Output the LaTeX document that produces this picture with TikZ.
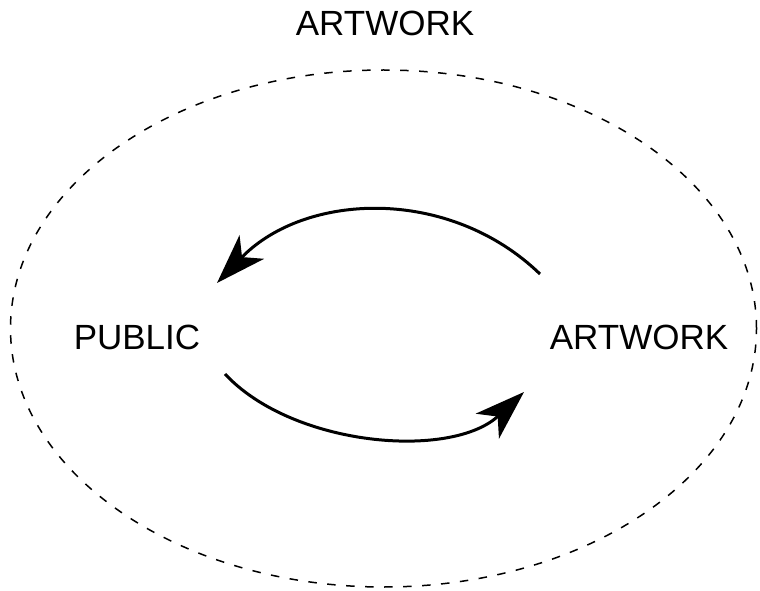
\documentclass[tikz,border=0pt]{standalone}
\usepackage{fontspec}
\setmainfont{Liberation Sans}
\usetikzlibrary{arrows.meta}

\tikzset{
  label/.style={inner sep=0pt, anchor=base, font=\fontsize{35}{42}\selectfont},
  flow/.style={line width=3pt, -{Stealth[length=50pt, width=34pt, inset=14pt]}},
  frontier/.style={line width=1.5pt, dash pattern=on 8.5pt off 10.5pt}
}

\begin{document}
\begin{tikzpicture}[x=1pt, y=1pt]

    % 1. marco
    \useasboundingbox (0, 0) rectangle (760, 590);

    % 2. elipse exterior
    \draw[frontier] (383.5, 261.5) ellipse [x radius=373, y radius=258.5];

    % 3. textos
    \node[label] (title) at (385, 554) {ARTWORK};
    \node[label] (pub) at (137, 241) {PUBLIC};
    \node[label] (art) at (639, 241) {ARTWORK};

    % 4. flecha de arriba
    \draw[flow] ([shift={(-99, 75)}]art.base)
        to[out=136, in=46] ([shift={(80, 66)}]pub.base);

    % 5. flecha de abajo
    \draw[flow] ([shift={(88, -25)}]pub.base)
        to[out=-47, in=223, looseness=0.85] ([shift={(-115, -43)}]art.base);

\end{tikzpicture}
\end{document}
